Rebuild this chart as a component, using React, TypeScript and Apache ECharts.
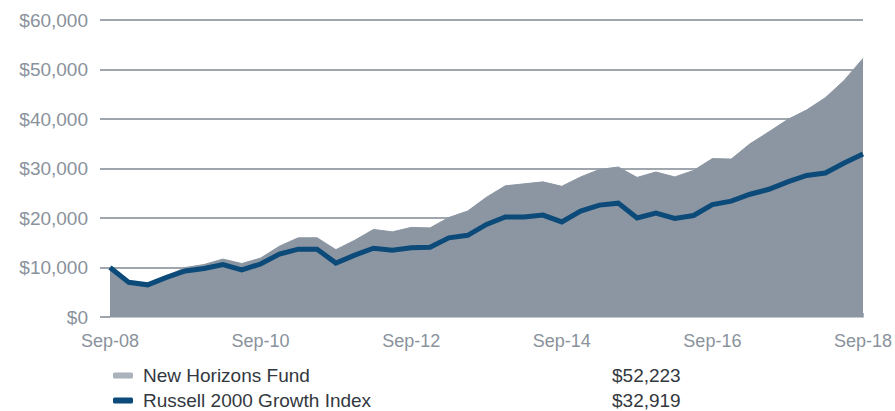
import React, { useEffect, useRef } from "react";
import * as echarts from "echarts";

const categories = [
  "Sep-08", "Dec-08", "Mar-09", "Jun-09", "Sep-09", "Dec-09", "Mar-10", "Jun-10",
  "Sep-10", "Dec-10", "Mar-11", "Jun-11", "Sep-11", "Dec-11", "Mar-12", "Jun-12",
  "Sep-12", "Dec-12", "Mar-13", "Jun-13", "Sep-13", "Dec-13", "Mar-14", "Jun-14",
  "Sep-14", "Dec-14", "Mar-15", "Jun-15", "Sep-15", "Dec-15", "Mar-16", "Jun-16",
  "Sep-16", "Dec-16", "Mar-17", "Jun-17", "Sep-17", "Dec-17", "Mar-18", "Jun-18",
  "Sep-18",
];

const fundName = "New Horizons Fund";
const indexName = "Russell 2000 Growth Index";

const fundValues = [
  10000, 7200, 6700, 8300, 10000, 10600, 11700, 10800,
  11900, 14300, 16000, 16000, 13600, 15500, 17700, 17200,
  18100, 18000, 20100, 21400, 24200, 26500, 26900, 27300,
  26400, 28300, 29800, 30300, 28200, 29300, 28300, 29600,
  32000, 31900, 35000, 37400, 39900, 41800, 44300, 47800,
  52223,
];

const indexValues = [
  10000, 7000, 6500, 8000, 9300, 9800, 10600, 9500,
  10700, 12700, 13700, 13700, 10900, 12500, 13900, 13500,
  14000, 14100, 16000, 16500, 18700, 20200, 20200, 20600,
  19200, 21400, 22600, 23000, 20000, 21000, 19900, 20500,
  22700, 23400, 24800, 25800, 27300, 28600, 29100, 31100,
  32919,
];

const yTicks = [0, 10000, 20000, 30000, 40000, 50000, 60000];

const FONT = "Liberation Sans";
const LABEL = "#8a929c";
const AREA = "#8b96a2";
const BLUE = "#0b4a79";
const SWATCH_GRAY = "#aab2bb";
const TEXT = "#33383e";

const money = (v: number) => "$" + Math.round(v).toLocaleString("en-US");

export default function App() {
  const ref = useRef<HTMLDivElement>(null);

  useEffect(() => {
    if (!ref.current) return;
    const chart = echarts.init(ref.current, undefined, { renderer: "svg" });
    const finals: Record<string, string> = {
      [fundName]: money(fundValues[fundValues.length - 1]),
      [indexName]: money(indexValues[indexValues.length - 1]),
    };
    chart.setOption({
      animation: false,
      grid: { left: 110, right: 31, top: 20, bottom: 94, containLabel: false },
      legend: {
        orient: "vertical",
        left: 113,
        top: 366,
        height: 80,
        padding: 0,
        itemGap: 6,
        itemWidth: 20,
        itemHeight: 6,
        selectedMode: false,
        data: [
          { name: fundName, icon: "roundRect", itemStyle: { color: SWATCH_GRAY } },
          { name: indexName, icon: "roundRect", itemStyle: { color: BLUE } },
        ],
        formatter: (name: string) => `{n|${name}}{v|${finals[name]}}`,
        textStyle: {
          fontFamily: FONT,
          fontSize: 19,
          color: TEXT,
          rich: {
            n: { width: 469, height: 20, padding: [0, 0, 0, 5], fontFamily: FONT, fontSize: 19, color: TEXT },
            v: { height: 20, fontFamily: FONT, fontSize: 19, color: TEXT },
          },
        },
      },
      xAxis: {
        type: "category",
        data: categories,
        boundaryGap: false,
        axisLine: { show: true, lineStyle: { color: "#c3c9cf", width: 2 } },
        axisTick: {
          show: true,
          inside: true,
          length: 4,
          interval: 0,
          lineStyle: { color: "#a9b0b8", width: 1 },
        },
        axisLabel: {
          interval: 7,
          margin: 15,
          fontFamily: FONT,
          fontSize: 18,
          color: LABEL,
          showMaxLabel: true,
        },
        splitLine: { show: false },
      },
      yAxis: {
        type: "value",
        min: yTicks[0],
        max: yTicks[yTicks.length - 1],
        interval: yTicks[1] - yTicks[0],
        axisLine: { show: false },
        axisTick: { show: true, length: 10, lineStyle: { color: "#7f8892", width: 1.5 } },
        axisLabel: {
          margin: 22,
          fontFamily: FONT,
          fontSize: 19,
          color: LABEL,
          formatter: (v: number) => money(v),
        },
        splitLine: { show: true, lineStyle: { color: "#7f8892", width: 1.5 } },
      },
      series: [
        {
          name: fundName,
          type: "line",
          data: fundValues,
          symbol: "none",
          lineStyle: { width: 1, color: AREA },
          itemStyle: { color: SWATCH_GRAY },
          areaStyle: { color: AREA, opacity: 1 },
          z: 2,
        },
        {
          name: indexName,
          type: "line",
          data: indexValues,
          symbol: "none",
          lineStyle: { width: 5, color: BLUE, join: "miter" },
          itemStyle: { color: BLUE },
          z: 3,
        },
      ],
    });
    return () => chart.dispose();
  }, []);

  return <div ref={ref} style={{ width: 895, height: 411, position: "absolute", left: 0, top: 0 }} />;
}
